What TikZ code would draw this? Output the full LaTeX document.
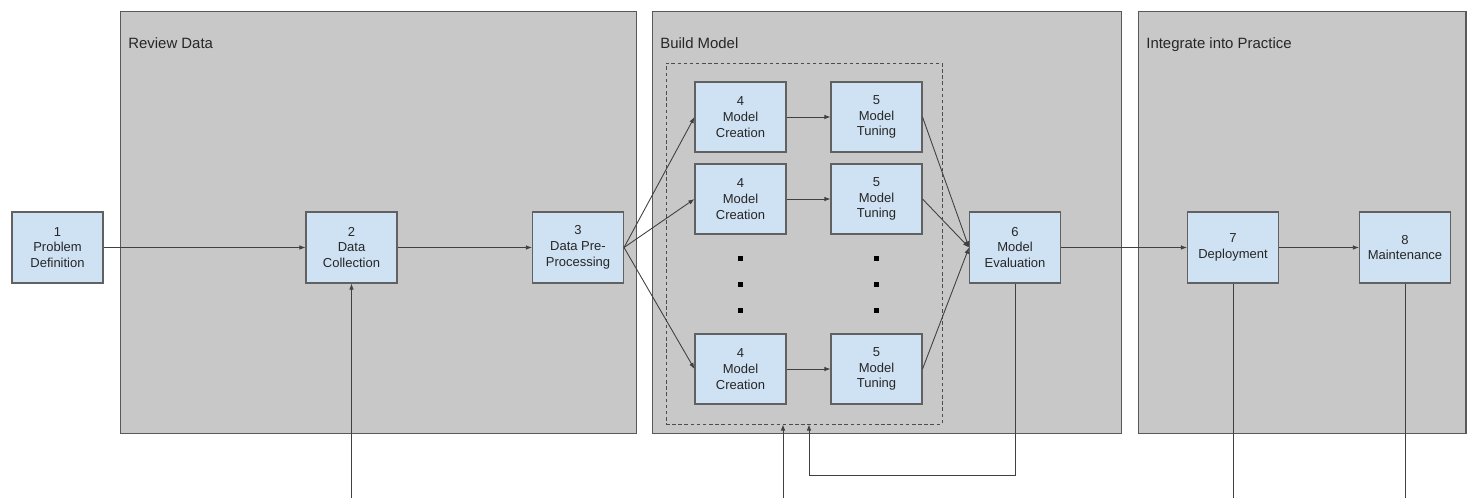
\documentclass[tikz,border=0pt]{standalone}
\usepackage{fontspec}
\setmainfont{Liberation Sans}
\usetikzlibrary{arrows.meta}
\definecolor{stageblue}{HTML}{CFE2F3}
\definecolor{panelgray}{HTML}{C8C8C8}

\begin{document}
\begin{tikzpicture}[x=0.02cm,y=-0.02cm,
  >={Latex[length=3.5pt,width=2.6pt]},
  panel/.style={draw=black!65,fill=panelgray,line width=0.6pt,inner sep=0pt},
  pool/.style={draw=black!70,dash pattern=on 2pt off 1.5pt,line width=0.5pt,inner sep=0pt,minimum width=5.52cm,minimum height=7.22cm},
  title/.style={anchor=base west,inner sep=0pt,font=\fontsize{8.5}{10}\selectfont,text=black!85},
  stage/.style={draw=black!62,fill=stageblue,line width=0.6pt,align=center,inner sep=1pt,
    minimum width=1.82cm,minimum height=1.42cm,font=\fontsize{7.4}{9}\selectfont,text=black!85},
  substage/.style={stage,minimum height=1.4cm},
  wire/.style={draw=black!75,line width=0.5pt}]
\useasboundingbox (0,0) rectangle (1468,498);

% The three grey phases:
\node[panel,minimum width=10.34cm,minimum height=8.46cm] (review) at (378.5,222.5) {};
\node[panel,minimum width=9.4cm,minimum height=8.46cm] (build) at (887,222.5) {};
\node[panel,minimum width=6.56cm,minimum height=8.46cm] (integrate) at (1302,222.5) {};
\node[title] (reviewtitle) at (128,48) {Review Data};
\node[title] (buildtitle) at (660,48) {Build Model};
\node[title] (integratetitle) at (1146,48) {Integrate into Practice};

\node[pool] (pool) at (804,243.5) {};

% The stages:
\node[stage] (p1) at (57.5,247.5) {1\\Problem\\Definition};
\node[stage] (p2) at (351.5,247.5) {2\\Data\\Collection};
\node[stage] (p3) at (578,247.5) {3\\Data Pre-\\Processing};
\node[stage] (p6) at (1015,247.5) {6\\Model\\Evaluation};
\node[stage] (p7) at (1233,247.5) {7\\Deployment};
\node[stage] (p8) at (1405,247.5) {8\\Maintenance};

\foreach \r/\y in {a/117,b/199,c/369}
{
  \node[substage] (p4\r) at (740.5,\y) {4\\Model\\Creation};
  \node[substage] (p5\r) at (876.5,\y) {5\\Model\\Tuning};
  \draw[wire,->] (p3.east) -- (p4\r.west);
  \draw[wire,->] (p4\r) -- (p5\r);
  \draw[wire,->] (p5\r.east) -- (p6.west);
};

% Put the dots in:
\foreach \x in {740.5,876.5}
  \foreach \y in {258,284,310}
    \fill (\x-2.5,\y-2.5) rectangle (\x+2.5,\y+2.5);

\draw[wire,->] (p1) -- (p2);
\draw[wire,->] (p2) -- (p3);
\draw[wire,->] (p6) -- (p7);
\draw[wire,->] (p7) -- (p8);

% Feedback lines, running off the bottom:
\coordinate (fb) at (809,475);
\coordinate (p2out) at (351.5,498);
\coordinate (poolout) at (783,498);
\coordinate (p7out) at (1233,498);
\coordinate (p8out) at (1405,498);
\draw[wire,->] (p2out) -- (p2.south);
\draw[wire,->] (poolout) -- (poolout |- pool.south);
\draw[wire,->] (p6.south) |- (fb) -- (fb |- pool.south);
\draw[wire] (p7.south) -- (p7out);
\draw[wire] (p8.south) -- (p8out);
\end{tikzpicture}
\end{document}
